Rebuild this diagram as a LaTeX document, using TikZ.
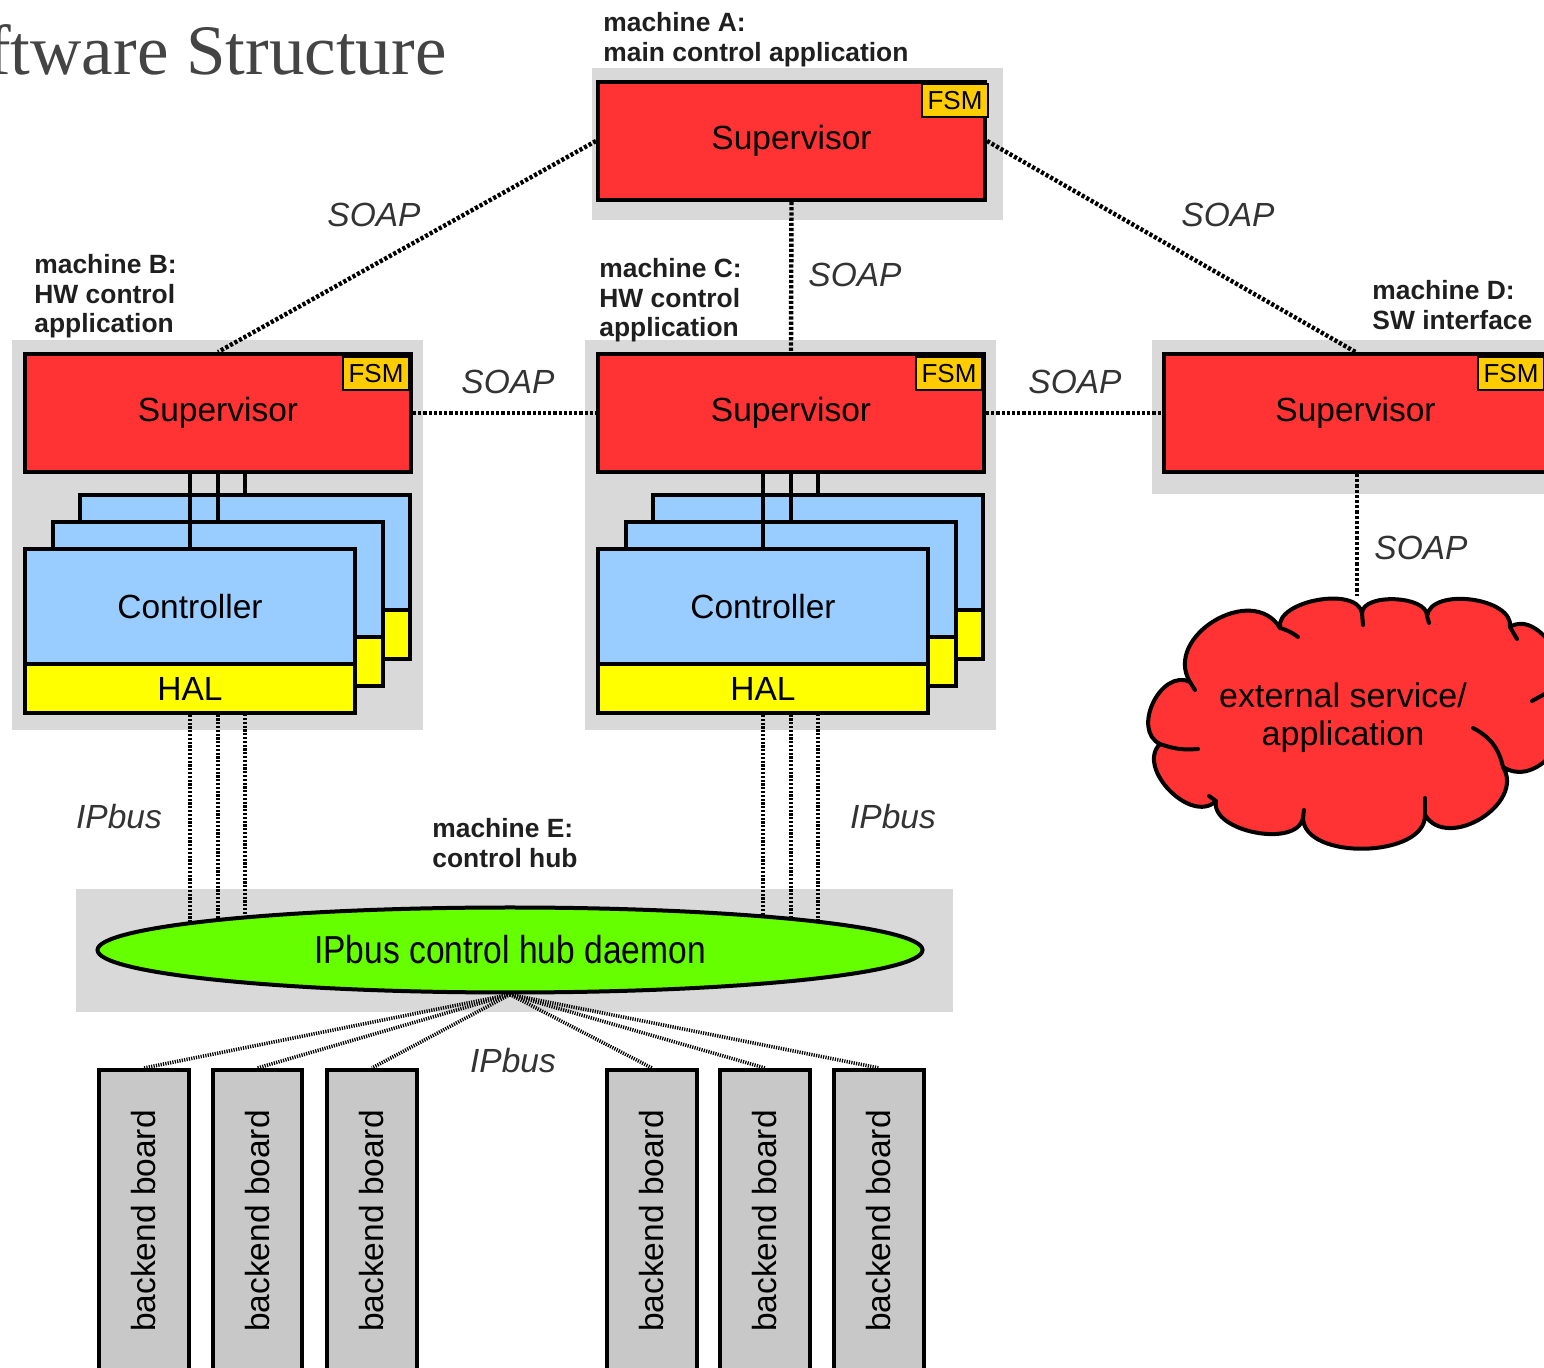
\documentclass[tikz,border=0pt]{standalone}
\usepackage{fontspec}
\usepackage{graphicx}
\setmainfont{Liberation Sans}
\newfontfamily\titlefont{Liberation Serif}
\usetikzlibrary{shapes.geometric,fit}

\pgfdeclarelayer{panel}
\pgfdeclarelayer{wires}
\pgfsetlayers{panel,wires,main}

\definecolor{supred}{HTML}{FF3333}
\definecolor{fsmgold}{HTML}{FFCC00}
\definecolor{ctrlblue}{HTML}{99CCFF}
\definecolor{halyellow}{HTML}{FFFF00}
\definecolor{hubgreen}{HTML}{66FF00}
\definecolor{panelgrey}{HTML}{D9D9D9}
\definecolor{boardgrey}{HTML}{C8C8C8}
\definecolor{labelgrey}{HTML}{333333}
\definecolor{titlegrey}{HTML}{444444}

\tikzset{
  bigtext/.style={font=\fontsize{16.75}{20}\selectfont},
  panel/.style={fill=panelgrey, draw=none, inner sep=0pt},
  blockbox/.style={rectangle, draw=black, line width=2pt, inner sep=0pt},
  boxtext/.style={label={[bigtext, inner sep=0pt]center:#1}},
  supbox/.style={blockbox, fill=supred},
  ctrlbox/.style={blockbox, fill=ctrlblue},
  halbox/.style={blockbox, fill=halyellow},
  boardbox/.style={blockbox, fill=boardgrey},
  fsmtag/.style={rectangle, draw=black, line width=1pt, fill=fsmgold, inner sep=0pt,
    label={[inner sep=0pt, font=\fontsize{13}{15}\selectfont]center:FSM}},
  hubshape/.style={ellipse, draw=black, line width=2pt, fill=hubgreen, inner sep=0pt,
    minimum width=412.5pt, minimum height=42.5pt, font=\fontsize{19.5}{22}\selectfont},
  cloudedge/.style={draw=black, line width=2pt, line join=round, line cap=round},
  puff/.style={bend left=90, looseness=#1},
  cloudtext/.style={inner sep=0pt, align=center, font=\fontsize{17}{19}\selectfont},
  machinelabel/.style={anchor=north west, inner sep=0pt, align=left, text=black!88,
    font=\bfseries\fontsize{13.2}{14.75}\selectfont},
  wirelabel/.style={inner sep=0pt, text=labelgrey, font=\itshape\fontsize{16.75}{20}\selectfont},
  soapwire/.style={line width=2.2pt, dash pattern=on 1.6pt off 1pt},
  ipwire/.style={line width=2pt, dash pattern=on 1.1pt off 0.8pt},
  fanwire/.style={line width=1.8pt, dash pattern=on 0.6pt off 0.6pt},
  ctrlwire/.style={line width=2pt},
}

\begin{document}
\begin{tikzpicture}[x=0.5pt, y=-0.5pt]
\useasboundingbox (0,0) rectangle (1544,1368);

% page heading (runs off the left edge)
\node[anchor=base east, inner sep=0pt, text=titlegrey,
      font=\titlefont\fontsize{35.5}{40}\selectfont] (title) at (447,75) {Software Structure};

% machine panels
\begin{pgfonlayer}{panel}
  \node[panel, fit={(592,68) (1003,220)}]   (panelA) {};
  \node[panel, fit={(12,340) (423,730)}]    (panelB) {};
  \node[panel, fit={(585,340) (996,730)}]   (panelC) {};
  \node[panel, fit={(1152,340) (1570,494)}] (panelD) {};
  \node[panel, fit={(76,889) (953,1012)}]   (panelE) {};
\end{pgfonlayer}

% machine captions
\node[machinelabel] (capA) at (603,12)   {machine A:\\main control application};
\node[machinelabel] (capB) at (34,254)   {machine B:\\HW control\\application};
\node[machinelabel] (capC) at (599,258)  {machine C:\\HW control\\application};
\node[machinelabel] (capD) at (1372,280) {machine D:\\SW interface};
\node[machinelabel] (capE) at (432,818)  {machine E:\\control hub};

% supervisors with their state machines
\node[supbox, boxtext=Supervisor, fit={(598,82) (985,200)}]    (supA) {};
\node[supbox, boxtext=Supervisor, fit={(25,354) (411,472)}]    (supB) {};
\node[supbox, boxtext=Supervisor, fit={(598,354) (984,472)}]   (supC) {};
\node[supbox, boxtext=Supervisor, fit={(1164,354) (1547,472)}] (supD) {};
\node[fsmtag, fit={(922,84) (988,117)}]    (fsmA) {};
\node[fsmtag, fit={(343,357) (409,390)}]   (fsmB) {};
\node[fsmtag, fit={(916,357) (982,390)}]   (fsmC) {};
\node[fsmtag, fit={(1478,357) (1544,390)}] (fsmD) {};

% controller stacks on machine B (3 = back, 1 = front)
\node[ctrlbox, fit={(80,495) (410,610)}]     (ctrlB3) {};
\node[halbox,  fit={(80,610) (410,659)}]     (halB3) {};
\node[ctrlbox, fit={(52.5,522) (382.5,637)}] (ctrlB2) {};
\node[halbox,  fit={(52.5,637) (382.5,686)}] (halB2) {};
\node[ctrlbox, boxtext=Controller, fit={(25,549) (355,664)}] (ctrlB1) {};
\node[halbox,  boxtext=HAL, fit={(25,664) (355,713)}]        (halB1) {};

% controller stacks on machine C
\node[ctrlbox, fit={(653,495) (983,610)}]     (ctrlC3) {};
\node[halbox,  fit={(653,610) (983,659)}]     (halC3) {};
\node[ctrlbox, fit={(625.5,522) (955.5,637)}] (ctrlC2) {};
\node[halbox,  fit={(625.5,637) (955.5,686)}] (halC2) {};
\node[ctrlbox, boxtext=Controller, fit={(598,549) (928,664)}] (ctrlC1) {};
\node[halbox,  boxtext=HAL, fit={(598,664) (928,713)}]        (halC1) {};

% supervisor to controller links
\foreach \m in {B,C}{
  \foreach \i in {1,2,3}{
    \draw[ctrlwire] (sup\m.south -| ctrl\m\i.north) -- (ctrl\m\i.north);
  }
}

% control hub
\node[hubshape] (hub) at (510,950) {\scalebox{0.86}[1]{IPbus control hub daemon}};

% backend boards
\foreach \n/\xl/\xr in {1/99/189, 2/213/302, 3/327/417, 4/607/697, 5/720/810, 6/834/924}{
  \node[boardbox, fit={(\xl,1070) (\xr,1372)},
        label={[rotate=90, inner sep=0pt, bigtext]center:backend board}] (board\n) {};
}

% external service: cloud outline made of puffs, with the inner puff strokes
\path[cloudedge, fill=supred]
  (1160,744) to[puff=1.2] (1190,682) to[puff=1.3] (1280,628)
  to[puff=0.85] (1362,613) to[puff=0.8] (1427,616) to[puff=0.9] (1510,627)
  to[puff=1.1] (1552,690) to[puff=1.3] (1503,767) to[puff=1.2] (1425,815)
  to[puff=0.9] (1303,818) to[puff=0.9] (1216,801) to[puff=1.1] (1160,744) -- cycle;
\draw[cloudedge] (1160,744) to[bend right=12] (1198,749);
\draw[cloudedge] (1190,682) -- (1195,690);
\draw[cloudedge] (1280,628) to[bend left=10] (1298,637);
\draw[cloudedge] (1362,613) -- (1363,625);
\draw[cloudedge] (1427,616) -- (1429,623);
\draw[cloudedge] (1510,627) -- (1517,639);
\draw[cloudedge] (1552,690) -- (1532,701);
\draw[cloudedge] (1503,767) to[bend right=25] (1473,728);
\draw[cloudedge] (1425,815) -- (1425,798);
\draw[cloudedge] (1303,818) -- (1304,810);
\draw[cloudedge] (1216,801) -- (1209,796);
\node[cloudtext] (cloud) at (1343,718) {external service/\\application};
\coordinate (cloudtop) at (1357,596);

% SOAP links
\draw[soapwire] (supA.west) -- (supB.north);
\draw[soapwire] (supA.east) -- (supD.north);
\draw[soapwire] (supA.south) -- (supC.north);
\draw[soapwire] (supB.east) -- (supC.west);
\draw[soapwire] (supC.east) -- (supD.west);
\draw[soapwire] (supD.south -| cloudtop) -- (cloudtop);

% IPbus links from the HAL layers to the hub
\begin{pgfonlayer}{wires}
  \foreach \m in {B,C}{
    \foreach \i in {1,2,3}{
      \draw[ipwire] (hal\m\i.south) -- (hal\m\i.south |- hub.center);
    }
  }
\end{pgfonlayer}

% IPbus links from the hub to the boards
\foreach \n in {1,...,6}{
  \draw[fanwire] (hub.south) -- (board\n.north);
}

% link labels
\node[wirelabel] (lsoapAB) at (374,215)  {SOAP};
\node[wirelabel] (lsoapAD) at (1228,215) {SOAP};
\node[wirelabel] (lsoapAC) at (855,275)  {SOAP};
\node[wirelabel] (lsoapBC) at (508,382)  {SOAP};
\node[wirelabel] (lsoapCD) at (1075,382) {SOAP};
\node[wirelabel] (lsoapDX) at (1421,548) {SOAP};
\node[wirelabel] (lipB)    at (119,817)  {IPbus};
\node[wirelabel] (lipC)    at (893,817)  {IPbus};
\node[wirelabel] (liphub)  at (513,1061) {IPbus};
\end{tikzpicture}
\end{document}
